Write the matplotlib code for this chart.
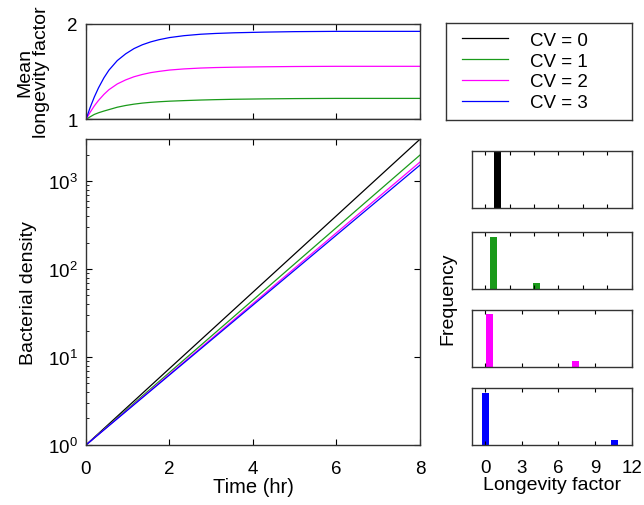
import matplotlib
matplotlib.use("Agg")
import matplotlib.pyplot as plt
import numpy as np

plt.rcParams['font.family'] = ['Liberation Sans', 'DejaVu Sans']
plt.rcParams['mathtext.fontset'] = 'custom'
plt.rcParams['mathtext.rm'] = 'Liberation Sans'
plt.rcParams['mathtext.it'] = 'Liberation Sans'

# colours per CV
cv_labels = ["CV = 0", "CV = 1", "CV = 2", "CV = 3"]
cv_colors = ["black", "#1a9a1a", "#ff00ff", "#0000ff"]

# top panel: mean longevity factor vs time
t_mean = [0, 0.1, 0.2, 0.3, 0.43, 0.55, 0.75, 0.95, 1.15, 1.35, 1.55, 1.75,
          2.0, 2.35, 2.75, 3.1, 3.55, 4.27, 5, 6, 7, 8]
mean_cv0 = [1.0] * len(t_mean)
mean_cv1 = [1.0, 1.028, 1.053, 1.07, 1.088, 1.103, 1.128, 1.146, 1.16, 1.171, 1.179, 1.185,
            1.191, 1.197, 1.203, 1.207, 1.211, 1.215, 1.218, 1.22, 1.22, 1.22]
mean_cv2 = [1.0, 1.075, 1.142, 1.199, 1.262, 1.311, 1.371, 1.413, 1.446, 1.47, 1.489, 1.502,
            1.516, 1.528, 1.537, 1.542, 1.546, 1.55, 1.553, 1.555, 1.555, 1.555]
mean_cv3 = [1.0, 1.125, 1.235, 1.33, 1.435, 1.515, 1.615, 1.685, 1.74, 1.78, 1.81, 1.833,
            1.855, 1.875, 1.89, 1.898, 1.905, 1.912, 1.917, 1.92, 1.92, 1.92]

# main panel: bacterial density vs time
t_dens = [0, 2, 4, 6, 8]
dens_cv0 = [1, 7.4, 54.6, 403, 2981]
dens_cv1 = [1, 6.67, 44.4, 296, 1970]
dens_cv2 = [1, 6.36, 40.5, 258, 1640]
dens_cv3 = [1, 6.24, 38.9, 243, 1515]

# right panels: longevity factor distributions
hist_x = [[1.0], [0.7, 4.2], [0.35, 7.4], [0.05, 10.6]]
hist_freq = [[1.0], [0.91, 0.10], [0.92, 0.10], [0.90, 0.085]]
hist_ticks = [[0, 2, 4, 6, 8, 10, 12], [0, 2, 4, 6, 8, 10, 12],
              [0, 3, 6, 9, 12], [0, 3, 6, 9, 12]]

means = [mean_cv0, mean_cv1, mean_cv2, mean_cv3]
dens = [dens_cv0, dens_cv1, dens_cv2, dens_cv3]

TICK = 13.5
LAB = 14

fig = plt.figure(figsize=(6.44, 5.06), dpi=100)

def style(ax):
    ax.tick_params(direction='in', top=True, right=True, length=4,
                   labelsize=TICK, width=0.8)
    ax.tick_params(axis='x', pad=10.5)
    ax.tick_params(axis='y', pad=6)
    ax.tick_params(which='minor', direction='in', length=2, width=0.6)
    for s in ax.spines.values():
        s.set_linewidth(1.0)
        s.set_color('#333333')

# top panel
ax_top = fig.add_axes([0.1335, 0.7619, 0.5186, 0.1893])
for m, c in zip(means, cv_colors):
    ax_top.plot(t_mean, m, color=c, lw=0.9)
ax_top.set_xlim(0, 8)
ax_top.set_ylim(1, 2)
ax_top.set_xticks([0, 2, 4, 6, 8])
ax_top.set_xticklabels([])
ax_top.set_yticks([1, 2])
style(ax_top)
ax_top.set_ylabel("Mean\nlongevity factor", fontsize=LAB, linespacing=1.0, labelpad=12)

# main panel
ax = fig.add_axes([0.1335, 0.1186, 0.5186, 0.6047])
lines = []
for d, c, lab in zip(dens, cv_colors, cv_labels):
    ln, = ax.plot(t_dens, d, color=c, lw=0.9, label=lab)
    lines.append(ln)
ax.set_yscale('log')
ax.set_xlim(0, 8)
ax.set_ylim(1, 3000)
ax.set_xticks([0, 2, 4, 6, 8])
style(ax)
ax.set_xlabel("Time (hr)", fontsize=LAB + 0.5, labelpad=0.5)
ax.set_ylabel("Bacterial density", fontsize=LAB, labelpad=8)

# legend box
ax_leg = fig.add_axes([0.692, 0.7615, 0.2898, 0.1905])
ax_leg.set_xticks([])
ax_leg.set_yticks([])
for s in ax_leg.spines.values():
    s.set_linewidth(1.0)
    s.set_color('#333333')
ax_leg.legend(handles=lines, loc='center left', bbox_to_anchor=(0.087, 0.5),
              frameon=False, fontsize=13.5, borderpad=0, borderaxespad=0,
              handlelength=2.45, handletextpad=1.2, labelspacing=0.2)

# histograms
bottoms = [0.5864, 0.4273, 0.2733, 0.1192]
for i in range(4):
    axh = fig.add_axes([0.7325, bottoms[i], 0.2484, 0.113])
    axh.bar(hist_x[i], hist_freq[i], width=0.55, color=cv_colors[i])
    axh.set_xlim(-1.1, 12)
    axh.set_ylim(0, 1)
    axh.set_yticks([])
    axh.set_xticks(hist_ticks[i])
    axh.tick_params(direction='in', top=True, length=3, labelsize=TICK,
                    width=0.8, pad=10.5)
    for s in axh.spines.values():
        s.set_linewidth(1.0)
        s.set_color('#333333')
    if i < 3:
        axh.set_xticklabels([])
    else:
        axh.set_xlabel("Longevity factor", fontsize=LAB, labelpad=0)

fig.text(448 / 644, (506 - 299) / 506, "Frequency", rotation=90,
         ha='center', va='center', fontsize=LAB)

fig.savefig("out.png", dpi=100)
